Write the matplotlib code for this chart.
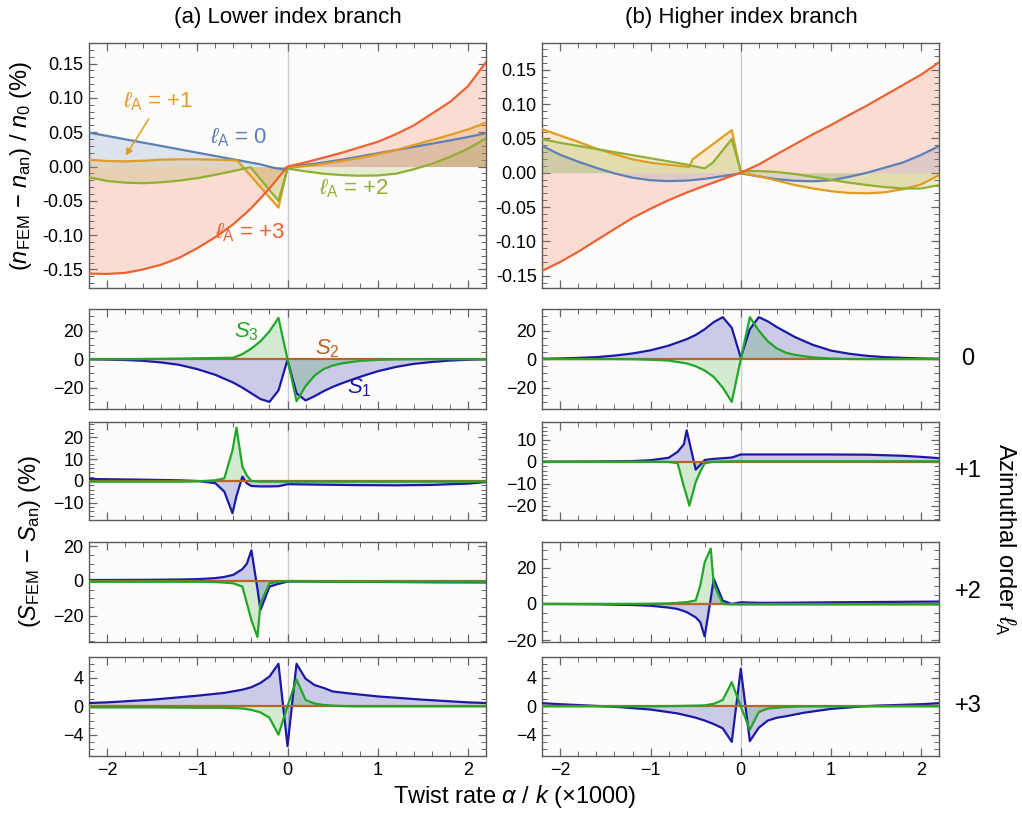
import matplotlib
matplotlib.use('Agg')
import matplotlib.pyplot as plt
from matplotlib.ticker import MultipleLocator, FormatStrFormatter

plt.rcParams['font.family'] = ['Liberation Sans', 'DejaVu Sans']
plt.rcParams['mathtext.fontset'] = 'custom'
plt.rcParams['mathtext.rm'] = 'Liberation Sans'
plt.rcParams['mathtext.it'] = 'Liberation Sans:italic'
plt.rcParams['mathtext.bf'] = 'Liberation Sans:bold'
plt.rcParams['axes.unicode_minus'] = True

# ---------------- data: top panels (index deviation, %) ----------------
# (a) lower index branch
a_l0_x = [-2.2, -1.8, -1.4, -1.0, -0.6, -0.3, -0.15, -0.05, 0.0, 0.1, 0.3, 0.6, 0.9, 1.2, 1.5, 1.8, 2.0, 2.2]
a_l0_y = [0.0495, 0.0397, 0.030, 0.0202, 0.0105, 0.0032, -0.002, -0.004, -0.002, 0.001, 0.004, 0.010, 0.017, 0.024, 0.031, 0.038, 0.043, 0.0485]
a_l1_x = [-2.2, -2.0, -1.8, -1.6, -1.4, -1.2, -1.0, -0.8, -0.6, -0.555, -0.1, 0.0, 0.3, 0.6, 0.9, 1.2, 1.5, 1.8, 2.0, 2.2]
a_l1_y = [0.0099, 0.0080, 0.0075, 0.0085, 0.0100, 0.0105, 0.0105, 0.0100, 0.0090, 0.0085, -0.060, -0.002, 0.002, 0.008, 0.015, 0.024, 0.035, 0.046, 0.054, 0.064]
a_l2_x = [-2.2, -2.0, -1.8, -1.6, -1.4, -1.2, -1.0, -0.8, -0.6, -0.41, -0.1, 0.0, 0.2, 0.4, 0.6, 0.8, 1.0, 1.2, 1.4, 1.6, 1.8, 2.0, 2.2]
a_l2_y = [-0.0158, -0.021, -0.0235, -0.0243, -0.023, -0.0205, -0.017, -0.012, -0.0065, -0.001, -0.050, -0.003, -0.007, -0.0105, -0.0125, -0.0134, -0.013, -0.0105, -0.004, 0.004, 0.014, 0.026, 0.041]
a_l3_x = [-2.2, -2.0, -1.8, -1.6, -1.4, -1.2, -1.0, -0.8, -0.6, -0.4, -0.2, 0.0, 0.2, 0.4, 0.6, 0.8, 1.0, 1.2, 1.4, 1.6, 1.8, 2.0, 2.2]
a_l3_y = [-0.156, -0.1565, -0.155, -0.150, -0.143, -0.133, -0.119, -0.103, -0.084, -0.0605, -0.032, 0.0, 0.006, 0.013, 0.020, 0.028, 0.036, 0.047, 0.060, 0.077, 0.094, 0.117, 0.152]

# (b) higher index branch
b_l0_x = [-2.2, -2.0, -1.8, -1.6, -1.4, -1.2, -1.0, -0.8, -0.6, -0.4, -0.2, 0.0, 0.2, 0.4, 0.6, 0.8, 1.0, 1.2, 1.4, 1.6, 1.8, 2.0, 2.2]
b_l0_y = [0.039, 0.026, 0.016, 0.007, -0.001, -0.0073, -0.011, -0.0122, -0.0115, -0.009, -0.005, -0.001, -0.0055, -0.0095, -0.0118, -0.0125, -0.011, -0.006, 0.0, 0.0075, 0.015, 0.026, 0.039]
b_l1_x = [-2.2, -2.0, -1.8, -1.6, -1.4, -1.2, -1.0, -0.8, -0.57, -0.535, -0.1, 0.0, 0.2, 0.4, 0.6, 0.8, 1.0, 1.2, 1.4, 1.6, 1.8, 2.0, 2.2]
b_l1_y = [0.0635, 0.054, 0.045, 0.035, 0.027, 0.0195, 0.0145, 0.0115, 0.0083, 0.0195, 0.062, 0.0, -0.005, -0.0115, -0.018, -0.023, -0.027, -0.0295, -0.030, -0.0285, -0.024, -0.017, -0.0034]
b_l2_x = [-2.2, -2.0, -1.8, -1.6, -1.4, -1.2, -1.0, -0.8, -0.6, -0.535, -0.4, -0.31, -0.1, 0.0, 0.2, 0.4, 0.6, 0.8, 1.0, 1.2, 1.4, 1.6, 1.8, 2.0, 2.2]
b_l2_y = [0.0488, 0.0435, 0.039, 0.0345, 0.030, 0.0255, 0.021, 0.0165, 0.012, 0.0098, 0.0064, 0.0147, 0.049, 0.002, 0.0025, 0.001, -0.002, -0.006, -0.0105, -0.0145, -0.018, -0.021, -0.023, -0.023, -0.018]
b_l3_x = [-2.2, -2.0, -1.8, -1.6, -1.4, -1.2, -1.0, -0.8, -0.6, -0.4, -0.2, 0.0, 0.2, 0.4, 0.6, 0.8, 1.0, 1.2, 1.4, 1.6, 1.8, 2.0, 2.2]
b_l3_y = [-0.143, -0.130, -0.115, -0.0985, -0.082, -0.066, -0.0525, -0.040, -0.029, -0.019, -0.0095, 0.0, 0.012, 0.027, 0.0415, 0.056, 0.0695, 0.084, 0.098, 0.113, 0.128, 0.143, 0.161]

# ---------------- data: Stokes parameter deviations (%) ----------------
s2_x = [-2.2, 2.2]
s2_y = [0.0, 0.0]

# azimuthal order 0
a0_x = [-2.2, -2.0, -1.8, -1.6, -1.4, -1.2, -1.0, -0.8, -0.6, -0.5, -0.4, -0.3, -0.2, -0.1, 0.0, 0.1, 0.2, 0.3, 0.4, 0.5, 0.6, 0.8, 1.0, 1.2, 1.4, 1.6, 1.8, 2.0, 2.2]
a0_s1 = [-0.1, -0.3, -0.6, -1.2, -2.3, -4.0, -7.0, -11.0, -16.5, -20.0, -24.0, -28.0, -30.0, -22.0, -0.5, -24.0, -29.0, -26.0, -22.5, -19.5, -17.0, -12.5, -8.5, -5.5, -3.3, -2.0, -1.0, -0.4, -0.1]
a0_s3 = [0.0, 0.0, 0.0, 0.1, 0.2, 0.4, 0.6, 0.8, 1.0, 3.5, 7.5, 12.5, 19.5, 29.0, 0.0, -29.5, -19.0, -11.5, -7.0, -4.5, -3.0, -1.2, -0.5, -0.2, -0.1, 0.0, 0.0, 0.0, 0.0]
b0_x = [-2.2, -2.0, -1.8, -1.6, -1.4, -1.2, -1.0, -0.8, -0.6, -0.5, -0.4, -0.3, -0.2, -0.1, 0.0, 0.1, 0.2, 0.3, 0.4, 0.5, 0.6, 0.8, 1.0, 1.2, 1.4, 1.6, 1.8, 2.0, 2.2]
b0_s1 = [0.3, 0.5, 0.9, 1.4, 2.5, 4.0, 6.2, 9.5, 14.0, 17.0, 21.0, 26.0, 29.5, 22.0, 1.0, 21.0, 29.5, 26.5, 22.5, 19.0, 15.5, 10.0, 6.0, 3.8, 2.3, 1.4, 0.9, 0.5, 0.3]
b0_s3 = [0.0, 0.0, 0.0, 0.0, 0.0, -0.1, -0.4, -1.0, -3.0, -5.0, -8.0, -12.5, -20.0, -30.0, 0.0, 29.5, 20.0, 12.5, 7.5, 4.5, 3.0, 1.2, 0.4, 0.1, 0.0, 0.0, 0.0, 0.0, 0.0]

# azimuthal order +1
a1_x = [-2.2, -2.0, -1.6, -1.2, -1.0, -0.8, -0.7, -0.61, -0.566, -0.5, -0.45, -0.4, -0.3, -0.2, -0.1, 0.0, 0.05, 0.4, 0.8, 1.2, 1.6, 2.0, 2.2]
a1_s1 = [0.9, 0.8, 0.6, 0.3, 0.0, -1.0, -4.9, -14.8, -7.0, 2.0, -1.1, -2.3, -2.5, -2.5, -2.4, -1.5, -1.5, -1.7, -1.9, -2.0, -1.8, -1.2, -0.5]
a1_s3 = [-0.3, -0.3, -0.3, -0.3, -0.2, 0.3, 1.2, 14.0, 24.5, 6.5, 2.5, 0.0, -0.3, -0.3, -0.3, -0.3, -0.3, -0.3, -0.3, -0.3, -0.3, -0.3, -0.3]
b1_x = [-2.2, -1.6, -1.2, -1.0, -0.8, -0.7, -0.63, -0.6, -0.57, -0.5, -0.45, -0.4, -0.3, -0.2, -0.1, 0.0, 0.2, 0.6, 1.0, 1.4, 1.8, 2.0, 2.2]
b1_s1 = [0.0, 0.1, 0.3, 0.7, 1.8, 4.5, 8.0, 14.3, 9.0, -3.6, -1.5, 0.8, 1.3, 1.6, 1.9, 3.3, 3.3, 3.3, 3.3, 3.2, 2.7, 2.2, 1.6]
b1_s3 = [0.0, 0.0, 0.0, 0.0, -0.1, -0.7, -11.4, -15.5, -20.0, -9.3, -4.5, -0.7, 0.0, 0.1, 0.2, 0.2, 0.2, 0.2, 0.2, 0.2, 0.2, 0.2, 0.2]

# azimuthal order +2
a2_x = [-2.2, -1.6, -1.2, -1.0, -0.8, -0.7, -0.6, -0.5, -0.45, -0.4, -0.333, -0.3, -0.2, -0.1, 0.0, 0.2, 0.6, 1.0, 1.6, 2.2]
a2_s1 = [0.5, 0.6, 0.8, 1.0, 1.6, 2.3, 3.5, 6.8, 10.0, 17.7, -4.6, -16.9, -3.3, -1.7, -0.4, -0.3, -0.5, -0.6, -0.8, -0.9]
a2_s3 = [-0.5, -0.5, -0.5, -0.5, -0.7, -1.0, -1.4, -3.3, -13.0, -22.7, -32.4, -13.0, -1.4, -0.5, -0.2, -0.3, -0.5, -0.5, -0.5, -0.5]
b2_x = [-2.2, -1.6, -1.2, -1.0, -0.8, -0.7, -0.6, -0.5, -0.45, -0.4, -0.333, -0.3, -0.2, -0.1, 0.0, 0.2, 0.6, 1.0, 1.6, 1.9, 2.2]
b2_s1 = [0.0, -0.2, -0.6, -1.0, -2.0, -2.8, -4.5, -7.4, -10.0, -18.0, 3.0, 13.9, 1.8, 0.0, 0.9, 0.6, 0.7, 0.9, 1.1, 1.2, 1.3]
b2_s3 = [0.0, 0.0, 0.0, 0.1, 0.3, 0.6, 1.0, 1.9, 10.0, 23.0, 30.5, 11.0, 0.0, -0.3, -0.3, -0.3, -0.3, -0.3, -0.3, -0.3, -0.3]

# azimuthal order +3
a3_x = [-2.2, -2.0, -1.5, -1.0, -0.7, -0.5, -0.4, -0.3, -0.2, -0.1, 0.0, 0.1, 0.2, 0.3, 0.4, 0.5, 0.7, 1.0, 1.5, 2.0, 2.2]
a3_s1 = [0.47, 0.56, 0.94, 1.5, 1.9, 2.35, 2.7, 3.3, 4.2, 6.0, -5.6, 6.0, 3.9, 3.0, 2.6, 2.1, 1.8, 1.4, 0.94, 0.56, 0.47]
a3_s3 = [-0.15, -0.15, -0.15, -0.2, -0.2, -0.3, -0.5, -0.85, -1.6, -4.0, 0.0, 3.8, 0.9, 0.4, 0.2, 0.1, 0.0, 0.0, 0.0, 0.0, 0.0]
b3_x = [-2.2, -2.0, -1.5, -1.35, -1.0, -0.7, -0.5, -0.4, -0.3, -0.2, -0.1, 0.0, 0.1, 0.2, 0.3, 0.4, 0.5, 0.7, 1.0, 1.35, 1.5, 2.0, 2.2]
b3_s1 = [0.45, 0.3, 0.0, -0.1, -0.45, -1.0, -1.6, -2.0, -2.5, -3.1, -5.0, 5.3, -4.9, -3.0, -2.0, -1.6, -1.4, -0.9, -0.36, 0.0, 0.1, 0.3, 0.45]
b3_s3 = [0.0, 0.0, 0.0, 0.0, 0.0, 0.05, 0.1, 0.14, 0.36, 0.9, 3.4, 0.0, -3.3, -0.8, -0.3, -0.2, -0.1, 0.0, 0.0, 0.0, 0.0, 0.0, 0.0]

row_labels = ['0', '+1', '+2', '+3']
x_ticks = [-2, -1, 0, 1, 2]

# ---------------- styling ----------------
C_L = ['#5E81B5', '#E19C24', '#8FB032', '#EB6235']
C_S1, C_S2, C_S3 = '#1A1AA6', '#B8652A', '#22A62A'
FACE = '#FDFCFA'
FRAME = '#5A5A5A'

fig = plt.figure(figsize=(10.22, 8.14), dpi=100)
W, H = 1022.0, 814.0
col_left = [89 / W, 542.3 / W]
col_w = 397 / W
rows_px = [(43, 288), (309.3, 409), (421.7, 520), (542.3, 642), (656.7, 756)]


def make_ax(col, row):
    t, b = rows_px[row]
    ax = fig.add_axes([col_left[col], 1 - b / H, col_w, (b - t) / H])
    ax.set_facecolor(FACE)
    ax.set_xlim(-2.2, 2.2)
    for s in ax.spines.values():
        s.set_color(FRAME)
        s.set_linewidth(1.0)
    ax.xaxis.set_major_locator(MultipleLocator(1))
    ax.xaxis.set_minor_locator(MultipleLocator(0.2))
    ax.tick_params(which='both', direction='in', top=True, right=True, color='#666666', labelsize=13, pad=4)
    ax.tick_params(which='major', length=6, width=0.9)
    ax.tick_params(which='minor', length=3.5, width=0.7)
    ax.axvline(0, color='#CCCCCC', lw=1.0, zorder=1)
    if row < 4:
        ax.tick_params(labelbottom=False)
    else:
        ax.set_xticks(x_ticks)
    return ax


def top_panel(ax, series, ylim):
    for (xs, ys), c in zip(series, C_L):
        ax.fill_between(xs, ys, 0, color=c, alpha=0.2, lw=0, zorder=2)
    for (xs, ys), c in zip(series, C_L):
        ax.plot(xs, ys, color=c, lw=1.6, zorder=3)
    ax.set_ylim(*ylim)
    ax.yaxis.set_major_locator(MultipleLocator(0.05))
    ax.yaxis.set_minor_locator(MultipleLocator(0.01))
    ax.yaxis.set_major_formatter(FormatStrFormatter('%.2f'))


def s_panel(ax, xs, s1, s3, ylim, major, minor):
    ax.fill_between(xs, s1, 0, color=C_S1, alpha=0.22, lw=0, zorder=2)
    ax.fill_between(xs, s3, 0, color=C_S3, alpha=0.2, lw=0, zorder=2)
    ax.plot(xs, s1, color=C_S1, lw=1.6, zorder=3)
    ax.plot(s2_x, s2_y, color=C_S2, lw=1.6, zorder=4)
    ax.plot(xs, s3, color=C_S3, lw=1.6, zorder=5)
    ax.set_ylim(*ylim)
    ax.yaxis.set_major_locator(MultipleLocator(major))
    ax.yaxis.set_minor_locator(MultipleLocator(minor))


# top panels
axA = make_ax(0, 0)
top_panel(axA, [(a_l0_x, a_l0_y), (a_l1_x, a_l1_y), (a_l2_x, a_l2_y), (a_l3_x, a_l3_y)], (-0.177, 0.18))
axB = make_ax(1, 0)
top_panel(axB, [(b_l0_x, b_l0_y), (b_l1_x, b_l1_y), (b_l2_x, b_l2_y), (b_l3_x, b_l3_y)], (-0.168, 0.189))
axA.set_ylabel(r'($n_{\mathrm{FEM}}$ − $n_{\mathrm{an}}$) / $n_0$ (%)', fontsize=17, labelpad=6)

lab = r'$\ell_{\mathrm{A}}$ = '
axA.text(-1.44, 0.094, lab + '+1', color=C_L[1], fontsize=16, ha='center', va='center')
axA.annotate('', xy=(-1.81, 0.0125), xytext=(-1.52, 0.073),
             arrowprops=dict(arrowstyle='-|>', color=C_L[1], lw=1.1, mutation_scale=10))
axA.text(-0.54, 0.042, lab + '0', color=C_L[0], fontsize=16, ha='center', va='center')
axA.text(0.74, -0.033, lab + '+2', color=C_L[2], fontsize=16, ha='center', va='center')
axA.text(-0.41, -0.097, lab + '+3', color=C_L[3], fontsize=16, ha='center', va='center')

# Stokes panels
specs = [
    ((a0_x, a0_s1, a0_s3, (-35, 35), 20, 5), (b0_x, b0_s1, b0_s3, (-35, 35), 20, 5)),
    ((a1_x, a1_s1, a1_s3, (-17.9, 27.2), 10, 2), (b1_x, b1_s1, b1_s3, (-26.5, 18.2), 10, 2)),
    ((a2_x, a2_s1, a2_s3, (-35.3, 22.3), 20, 5), (b2_x, b2_s1, b2_s3, (-21, 34), 20, 5)),
    ((a3_x, a3_s1, a3_s3, (-7, 7), 4, 1), (b3_x, b3_s1, b3_s3, (-7, 7), 4, 1)),
]
s_axes = []
for r, pair in enumerate(specs):
    for c, sp in enumerate(pair):
        ax = make_ax(c, r + 1)
        s_panel(ax, *sp)
        s_axes.append(ax)

ax0 = s_axes[0]
ax0.text(-0.46, 19, r'$S_3$', color=C_S3, fontsize=16, ha='center', va='center')
ax0.text(0.44, 7, r'$S_2$', color=C_S2, fontsize=16, ha='center', va='center')
ax0.text(0.80, -20, r'$S_1$', color=C_S1, fontsize=16, ha='center', va='center')

# figure texts
fig.text(287.5 / W, 1 - 17 / H, '(a) Lower index branch', fontsize=16, ha='center', va='center')
fig.text(741 / W, 1 - 17 / H, '(b) Higher index branch', fontsize=16, ha='center', va='center')
fig.text(30 / W, 1 - 542 / H, r'($S_{\mathrm{FEM}}$ − $S_{\mathrm{an}}$) (%)', fontsize=17,
         rotation=90, ha='center', va='center')
fig.text(515 / W, 1 - 797 / H, r'Twist rate $\alpha$ / $k$ (×1000)', fontsize=17, ha='center', va='center')
fig.text(1005 / W, 1 - 539 / H, r'Azimuthal order $\ell_{\mathrm{A}}$', fontsize=17,
         rotation=-90, ha='center', va='center')
for lbl, (t, b) in zip(row_labels, rows_px[1:]):
    fig.text(968 / W, 1 - (t + b) / 2 / H, lbl, fontsize=17, ha='center', va='center')

fig.savefig('out.png', dpi=100)
